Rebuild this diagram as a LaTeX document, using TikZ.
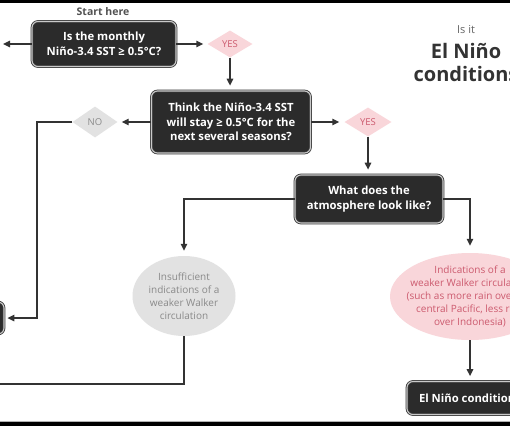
\documentclass[tikz,border=0pt]{standalone}
\usepackage{fontspec}
\setmainfont{Open Sans}
\usetikzlibrary{shapes.geometric,arrows.meta}
\definecolor{boxfill}{HTML}{2B2B2B}
\definecolor{boxline}{HTML}{3A3A3A}
\definecolor{boxring}{HTML}{C9C9C9}
\definecolor{linec}{HTML}{333333}
\definecolor{pinkfill}{HTML}{F9D6DA}
\definecolor{pinktext}{HTML}{CC5A6E}
\definecolor{grayfill}{HTML}{E2E2E2}
\definecolor{graytext}{HTML}{8A8A8A}
\definecolor{titlec}{HTML}{333333}
\tikzset{
  qbox/.style={draw=boxline, double=boxring, double distance=1.1pt, line width=0.8pt,
    fill=boxfill, rounded corners=6pt, text=white, align=center, inner sep=0pt,
    font=\bfseries\fontsize{11.3}{14.5}\selectfont},
  pinkdia/.style={diamond, fill=pinkfill, text=pinktext, inner sep=0pt,
    font=\fontsize{9.5}{10}\selectfont},
  graydia/.style={diamond, fill=grayfill, text=graytext, inner sep=0pt,
    font=\fontsize{9.5}{10}\selectfont},
  grayell/.style={ellipse, fill=grayfill, text=graytext, inner sep=0pt, align=center,
    font=\fontsize{10}{13}\selectfont},
  pinkell/.style={ellipse, fill=pinkfill, inner sep=0pt},
  pinktxt/.style={text=pinktext, inner sep=0pt, align=center,
    font=\fontsize{10}{13}\selectfont},
  arr/.style={draw=linec, line width=1.4pt, -{Triangle[length=7pt,width=6.5pt]}},
  conn/.style={draw=linec, line width=1.4pt},
}
\begin{document}
\begin{tikzpicture}[x=1pt,y=-1pt]
\useasboundingbox (0,0) rectangle (510,426);
\clip (0,0) rectangle (510,426);
\fill[white] (0,0) rectangle (510,426);
\fill[black] (0,0) rectangle (510,3);
\draw[gray!60, line width=0.6pt] (0,421) -- (510,421);
\fill[black] (0,422) rectangle (510,426);

% title
\node[text=titlec!75, font=\fontsize{11}{13}\selectfont] (tis) at (466,30) {Is it};
\node[text=titlec, font=\bfseries\fontsize{20}{24}\selectfont] (tel) at (466,51) {El Niño};
\node[text=titlec, font=\bfseries\fontsize{20}{24}\selectfont] (tco) at (466,74) {conditions};

% start
\node[text=titlec!85, font=\bfseries\fontsize{10.5}{12}\selectfont] (start) at (103,12) {Start here};

% nodes
\node[qbox, minimum width=144pt, minimum height=45pt] (q1) at (104,44)
  {Is the monthly\\Niño-3.4 SST ≥ 0.5°C?};
\node[pinkdia, minimum width=45pt, minimum height=27pt] (yes1) at (230,44) {YES};
\node[qbox, minimum width=159pt, minimum height=62pt] (q2) at (231,122)
  {Think the Niño-3.4 SST\\will stay ≥ 0.5°C for the\\next several seasons?};
\node[graydia, minimum width=45pt, minimum height=31pt] (no) at (95,122) {NO};
\node[pinkdia, minimum width=47pt, minimum height=29pt] (yes2) at (368,122) {YES};
\node[qbox, minimum width=148pt, minimum height=48pt] (q3) at (369,199)
  {What does the\\atmosphere look like?};
\node[qbox, minimum width=128pt, minimum height=32pt] (notbox) at (-60,318) {};
\node[grayell, minimum width=103pt, minimum height=80pt] (insuf) at (184,296)
  {Insufficient\\indications of a\\weaker Walker\\circulation};
\node[pinkell, minimum width=160pt, minimum height=87pt] (pink) at (470,296.5) {};
\node[pinktxt] (pinkt) at (pink.center)
  {Indications of a\\weaker Walker circulation\\(such as more rain over the\\central Pacific, less rain\\over Indonesia)};
\node[qbox, minimum width=126pt, minimum height=33pt] (q4) at (470,398)
  {El Niño conditions};

\coordinate (lft) at (3,44);
\coordinate (c1) at (37,122);
\coordinate (c2) at (-5,384);

% connectors
\draw[arr] (q1.west) -- (lft);
\draw[arr, shorten >=4pt] (q1.east) -- (yes1.west);
\draw[arr, shorten >=5pt] (yes1.south) -- (q2.north -| yes1.south);
\draw[arr, shorten >=4pt] (q2.west) -- (no.east);
\draw[arr, shorten >=3pt] (no.west) -- (c1) |- (notbox.east);
\draw[arr, shorten >=5pt] (q2.east) -- (yes2.west);
\draw[arr, shorten >=5pt] (yes2.south) -- (q3.north -| yes2.south);
\draw[arr, shorten >=5pt] (q3.west) -| (insuf.north);
\draw[conn] (insuf.south) |- (c2);
\draw[arr, shorten >=7pt] (q3.east) -| (pink.north);
\draw[arr, shorten >=5pt] (pink.south) -- (q4.north);
\end{tikzpicture}
\end{document}
